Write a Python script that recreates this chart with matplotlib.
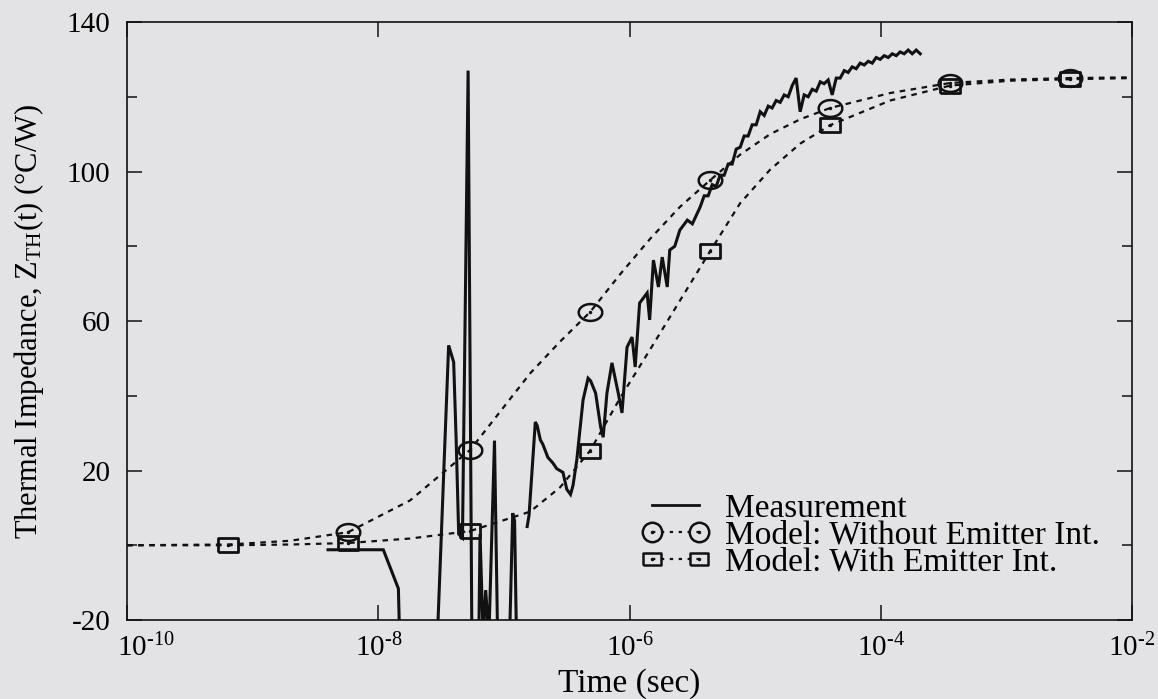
import numpy as np
import matplotlib
matplotlib.use("Agg")
import matplotlib.pyplot as plt
import matplotlib.transforms as mtransforms
from matplotlib.lines import Line2D
from matplotlib.legend_handler import HandlerTuple

plt.rcParams['font.family'] = ['Liberation Serif', 'DejaVu Serif']
plt.rcParams['mathtext.fontset'] = 'custom'
plt.rcParams['mathtext.rm'] = 'Liberation Serif'
plt.rcParams['mathtext.it'] = 'Liberation Serif:italic'
plt.rcParams['axes.unicode_minus'] = False

BG = "#e3e3e5"
INK = "#111111"

# measurement, time as log10(sec); -25 = below the axis (clipped)
meas_logt = [-8.40, -7.96, -7.84, -7.83,
             -7.53, -7.44, -7.40, -7.38, -7.36, -7.33, -7.285, -7.255,
             -7.20, -7.19, -7.165, -7.145, -7.12, -7.075, -7.05,
             -6.955, -6.93, -6.915, -6.90, np.nan,
             -6.815, -6.80, -6.75, -6.735, -6.71, -6.69, -6.65, -6.61,
             -6.58, -6.53, -6.50, -6.47, -6.45, -6.42, -6.37, -6.33,
             -6.31, -6.27, -6.23, -6.21, -6.18, -6.14, -6.09, -6.06,
             -6.02, -5.98, -5.955, -5.92, -5.86, -5.84, -5.81, -5.77,
             -5.74, -5.70, -5.68, -5.64, -5.60, -5.54, -5.50,
             -5.438, -5.406, -5.374, -5.342, -5.311, -5.279, -5.247, -5.215,
             -5.183, -5.151, -5.119, -5.088, -5.056, -5.024, -4.992, -4.960,
             -4.928, -4.896, -4.865, -4.833, -4.801, -4.769, -4.737, -4.705,
             -4.674, -4.642, -4.610, -4.578, -4.546, -4.514, -4.482, -4.451,
             -4.419, -4.387, -4.355, -4.323, -4.291, -4.260, -4.228, -4.196,
             -4.164, -4.132, -4.100, -4.068, -4.037, -4.005, -3.973, -3.941,
             -3.909, -3.877, -3.846, -3.814, -3.782, -3.750, -3.718, -3.686]
meas_val = [-1.2, -1.2, -11.6, -25,
            -25, 53.5, 49, 28, 3, 2, 127, -25,
            -25, 3, -25, -12, -25, 28, -25,
            -25, 8.6, 6.5, -25, np.nan,
            5, 8, 33, 32, 28.2, 27, 23.5, 22,
            20.5, 19.5, 15, 13.6, 16, 22.8, 38.9, 44.7,
            44, 40.7, 31.6, 28.9, 40.7, 48.8, 40.7, 35.4,
            53, 55.7, 47.7, 64.8, 67.5, 60.3, 76.3, 69.1,
            77.1, 69.1, 79, 80, 84.3, 87, 86,
            90.5, 93.5, 93.5, 96.5, 96, 99, 99, 102,
            102, 106, 106.5, 109.5, 109.5, 112.5, 112.5, 116,
            115, 117.5, 117, 119, 118.5, 120.5, 120, 123,
            125, 116, 120.5, 120, 122, 121.5, 124, 123.5,
            124.5, 120.5, 125, 125, 127, 126.5, 128, 127.5,
            129, 128.5, 129.5, 129, 130.5, 130, 131, 130.5,
            131.5, 131, 132, 131.5, 132.5, 131.5, 132.5, 131.5]

# model curves
model_logt = [-10.0, -9.196, -8.702, -8.240, -7.747, -7.269, -6.791, -6.553,
              -6.314, -6.075, -5.836, -5.60, -5.358, -5.12, -4.881, -4.64,
              -4.403, -3.925, -3.447, -2.970, -2.492, -2.0]
without_val = [0, 0.2, 1.2, 3.5, 12, 25.5, 46, 54.5,
               62.4, 72.5, 82, 90.5, 97.7, 104.5, 110, 114,
               117, 121, 123.7, 124.6, 125, 125.2]
with_val = [0, 0, 0.2, 0.6, 1.8, 3.8, 9, 15.5,
            25.3, 39.4, 52.4, 65.4, 78.7, 91.5, 100.5, 107.5,
            112.4, 119, 123, 124.3, 124.7, 125]

# marker points
circ_logt = [-8.240, -7.269, -6.314, -5.358, -4.403, -3.447, -2.492]
circ_val = [3.5, 25.5, 62.4, 97.7, 117, 123.7, 125]
sq_logt = [-9.196, -8.240, -7.269, -6.314, -5.358, -4.403, -3.447, -2.492]
sq_val = [0, 0.6, 3.8, 25.3, 78.7, 112.4, 123, 124.7]

x_ticks = [1e-10, 1e-8, 1e-6, 1e-4, 1e-2]
x_exps = ['10', '8', '6', '4', '2']
y_ticks = [-20, 20, 60, 100, 140]
labels = ['Measurement', 'Model: Without Emitter Int.', 'Model: With Emitter Int.']

t = lambda a: 10.0 ** np.asarray(a, dtype=float)

# wide marker shapes (ellipse / rectangle)
th = np.linspace(0, 2 * np.pi, 40)
ellipse = list(zip(1.4 * np.cos(th), np.sin(th)))
rect = [(-1.47, -1), (1.47, -1), (1.47, 1), (-1.47, 1), (-1.47, -1)]

fig = plt.figure(figsize=(11.58, 6.99), dpi=100, facecolor=BG)
ax = fig.add_axes([0.1097, 0.1130, 0.8679, 0.8555], facecolor=BG)
ax.set_xscale('log')

dots = (0, (2.5, 2.5))
ax.plot(t(model_logt), without_val, color=INK, lw=1.6, ls=dots)
ax.plot(t(model_logt), with_val, color=INK, lw=1.6, ls=dots)
ax.plot(t(meas_logt), meas_val, color=INK, lw=2.2, solid_joinstyle='miter')

ax.plot(t(circ_logt), circ_val, ls='none', marker=ellipse, ms=17,
        mfc='none', mec=INK, mew=1.8)
ax.plot(t(sq_logt), sq_val, ls='none', marker=rect, ms=15,
        mfc='none', mec=INK, mew=2.0)
ax.plot(t(circ_logt), circ_val, ls='none', marker='.', ms=3, color=INK)
ax.plot(t(sq_logt), sq_val, ls='none', marker='.', ms=3, color=INK)

ax.set_xlim(1e-10, 1e-2)
ax.set_ylim(-20, 140)
ax.set_xticks(x_ticks)
hyph = '\u2010'
ax.set_xticklabels(['$\\mathregular{10^{' + hyph + e + '}}$' for e in x_exps])
ax.xaxis.set_minor_locator(matplotlib.ticker.NullLocator())
ax.set_yticks(y_ticks)
ax.set_yticks(np.arange(0, 140, 40), minor=True)
ax.tick_params(which='both', direction='in', top=True, right=True,
               labelsize=21, color=INK, width=1.1)
ax.tick_params(which='major', length=11)
ax.tick_params(which='minor', length=7)
ax.tick_params(axis='y', pad=12)
ax.tick_params(axis='x', pad=10)
for s in ax.spines.values():
    s.set_linewidth(1.2)
    s.set_color(INK)

# first decade label sits a little to the right of its tick
first = ax.get_xticklabels()[0]
first.set_transform(first.get_transform() +
                    mtransforms.ScaledTranslation(0.19, 0, fig.dpi_scale_trans))

ax.set_xlabel('Time (sec)', fontsize=24, labelpad=4)
ax.set_ylabel(r'Thermal Impedance, Z$_\mathregular{TH}$(t) ($\degree$C/W)',
              fontsize=22, labelpad=15)

h_meas = Line2D([], [], color=INK, lw=2.0)
h_wo = (Line2D([], [], color=INK, lw=1.6, ls=(0, (1.5, 2.5)), marker='o', ms=14,
               mfc='none', mew=1.8),
        Line2D([], [], ls='none', marker='.', ms=3, color=INK))
h_w = (Line2D([], [], color=INK, lw=1.6, ls=(0, (1.5, 2.5)), marker=rect, ms=13.5,
              mfc='none', mew=1.8),
       Line2D([], [], ls='none', marker='.', ms=3, color=INK))
ax.legend([h_meas, h_wo, h_w], labels,
          handler_map={tuple: HandlerTuple(ndivide=1)},
          loc='lower right', bbox_to_anchor=(0.985, 0.043), frameon=False,
          fontsize=24, numpoints=2, handlelength=2.0, handletextpad=0.5,
          labelspacing=-0.11, borderpad=0)

fig.savefig('out.png', dpi=100, facecolor=BG)
